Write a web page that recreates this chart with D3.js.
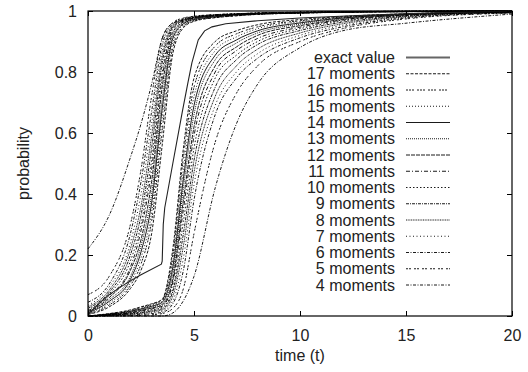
<!DOCTYPE html>
<html>
<head>
<meta charset="utf-8">
<script src="https://cdn.jsdelivr.net/npm/d3@7"></script>
<style>
  body { margin: 0; background: #fff; }
  text { font-family: "Liberation Sans", Arial, sans-serif; fill: #222; }
</style>
</head>
<body>
<div id="chart"></div>
<script>
// sample times shared by all moment bounds
var times = [0, 1, 2, 2.5, 3, 3.5, 4, 4.5, 5, 6, 7, 8, 10, 12, 15, 20];

var momentCounts = [17, 16, 15, 14, 13, 12, 11, 10, 9, 8, 7, 6, 5, 4];

// upper bounds (left bundle), same order as momentCounts
var upperBounds = [
  [0.005, 0.030, 0.09, 0.15, 0.27, 0.56, 0.86, 0.945, 0.966, 0.978, 0.984, 0.989, 0.993, 0.996, 0.998, 1],
  [0.006, 0.036, 0.10, 0.17, 0.31, 0.61, 0.88, 0.950, 0.968, 0.979, 0.985, 0.989, 0.993, 0.996, 0.998, 1],
  [0.008, 0.042, 0.11, 0.19, 0.34, 0.65, 0.895, 0.955, 0.970, 0.980, 0.986, 0.990, 0.994, 0.996, 0.998, 1],
  [0.010, 0.048, 0.12, 0.21, 0.37, 0.68, 0.91, 0.958, 0.972, 0.981, 0.987, 0.990, 0.994, 0.996, 0.998, 1],
  [0.012, 0.054, 0.13, 0.23, 0.40, 0.71, 0.92, 0.961, 0.974, 0.983, 0.988, 0.991, 0.994, 0.997, 0.998, 1],
  [0.014, 0.060, 0.15, 0.25, 0.44, 0.75, 0.93, 0.964, 0.976, 0.984, 0.988, 0.991, 0.994, 0.997, 0.998, 1],
  [0.017, 0.066, 0.16, 0.28, 0.48, 0.78, 0.94, 0.967, 0.977, 0.985, 0.989, 0.992, 0.995, 0.997, 0.999, 1],
  [0.020, 0.072, 0.18, 0.30, 0.51, 0.80, 0.945, 0.968, 0.978, 0.985, 0.989, 0.992, 0.995, 0.997, 0.999, 1],
  [0.025, 0.078, 0.20, 0.33, 0.55, 0.83, 0.948, 0.970, 0.979, 0.986, 0.990, 0.992, 0.995, 0.997, 0.999, 1],
  [0.030, 0.085, 0.22, 0.36, 0.59, 0.85, 0.952, 0.972, 0.980, 0.987, 0.990, 0.993, 0.995, 0.997, 0.999, 1],
  [0.035, 0.095, 0.24, 0.40, 0.63, 0.87, 0.955, 0.973, 0.981, 0.987, 0.991, 0.993, 0.995, 0.997, 0.999, 1],
  [0.045, 0.105, 0.27, 0.44, 0.67, 0.89, 0.958, 0.975, 0.982, 0.988, 0.991, 0.993, 0.996, 0.998, 0.999, 1],
  [0.070, 0.130, 0.30, 0.48, 0.72, 0.91, 0.962, 0.977, 0.983, 0.988, 0.991, 0.994, 0.996, 0.998, 0.999, 1],
  [0.220, 0.330, 0.52, 0.63, 0.76, 0.91, 0.960, 0.970, 0.977, 0.985, 0.990, 0.993, 0.996, 0.998, 0.999, 1]
];

// lower bounds (right bundle)
var lowerBounds = [
  [0, 0.008, 0.020, 0.030, 0.040, 0.055, 0.22, 0.55, 0.78, 0.90, 0.935, 0.955, 0.972, 0.982, 0.991, 0.998],
  [0, 0.007, 0.018, 0.028, 0.038, 0.052, 0.20, 0.52, 0.75, 0.885, 0.925, 0.948, 0.968, 0.980, 0.990, 0.998],
  [0, 0.006, 0.016, 0.025, 0.035, 0.048, 0.18, 0.48, 0.72, 0.87, 0.915, 0.942, 0.965, 0.979, 0.990, 0.998],
  [0, 0.006, 0.015, 0.023, 0.032, 0.045, 0.16, 0.45, 0.69, 0.855, 0.905, 0.935, 0.961, 0.977, 0.989, 0.997],
  [0, 0.005, 0.013, 0.020, 0.029, 0.040, 0.14, 0.42, 0.66, 0.84, 0.895, 0.928, 0.957, 0.975, 0.988, 0.997],
  [0, 0.004, 0.011, 0.018, 0.026, 0.036, 0.12, 0.38, 0.62, 0.82, 0.882, 0.920, 0.952, 0.972, 0.987, 0.997],
  [0, 0.004, 0.010, 0.016, 0.023, 0.032, 0.11, 0.35, 0.59, 0.80, 0.870, 0.910, 0.947, 0.970, 0.986, 0.996],
  [0, 0.003, 0.008, 0.013, 0.020, 0.028, 0.09, 0.31, 0.55, 0.78, 0.855, 0.900, 0.942, 0.967, 0.985, 0.996],
  [0, 0.003, 0.007, 0.011, 0.017, 0.024, 0.08, 0.27, 0.51, 0.75, 0.840, 0.890, 0.936, 0.963, 0.983, 0.996],
  [0, 0.002, 0.006, 0.009, 0.014, 0.020, 0.065, 0.23, 0.47, 0.72, 0.820, 0.875, 0.928, 0.958, 0.981, 0.995],
  [0, 0.002, 0.004, 0.007, 0.011, 0.016, 0.05, 0.19, 0.43, 0.69, 0.800, 0.860, 0.920, 0.953, 0.979, 0.995],
  [0, 0.001, 0.003, 0.005, 0.008, 0.012, 0.04, 0.15, 0.38, 0.66, 0.780, 0.845, 0.912, 0.948, 0.977, 0.994],
  [0, 0, 0.001, 0.002, 0.004, 0.008, 0.025, 0.09, 0.27, 0.57, 0.730, 0.820, 0.900, 0.942, 0.974, 0.993],
  [0, 0, 0, 0, 0, 0, 0.01, 0.05, 0.13, 0.42, 0.630, 0.760, 0.880, 0.935, 0.960, 0.990]
];

// exact value curve
var exactTimes = [0, 0.5, 1, 1.8, 2.5, 3.46, 3.5, 3.55, 3.62, 4.0, 4.45, 4.7, 4.9, 5.2, 5.5, 5.85, 6.5, 8, 10, 13, 16, 20];
var exactValues = [0.005, 0.04, 0.07, 0.107, 0.135, 0.17, 0.18, 0.30, 0.355, 0.50, 0.67, 0.76, 0.83, 0.905, 0.935, 0.948, 0.958, 0.968, 0.977, 0.986, 0.993, 1];

var xTicks = [0, 5, 10, 15, 20];
var yTicks = [0, 0.2, 0.4, 0.6, 0.8, 1];

// set the dimensions and margins of the graph
var W = 528, H = 372;
var margin = {top: 11, right: 16, bottom: 56, left: 88};
var width = W - margin.left - margin.right,
    height = H - margin.top - margin.bottom;

var svg = d3.select("#chart").append("svg")
  .attr("width", W).attr("height", H);
var g = svg.append("g")
  .attr("transform", "translate(" + margin.left + "," + margin.top + ")");

var x = d3.scaleLinear().domain([0, 20]).range([0, width]);
var y = d3.scaleLinear().domain([0, 1]).range([height, 0]);

// dash styles in legend order (17 .. 4)
var dashes = ["3,1.5", "2,1,2,1,2,3", "1,2", null, "1,1", "4,1", "4,2,1,2", "1.5,2",
              "3,1,1,1", "1,0.7", "1,2.5", "3,1.5,1,1.5", "2,1,2,3", "3,1.5,1,1.5"];

var line = d3.line()
  .x(function(d) { return x(d[0]); })
  .y(function(d) { return y(d[1]); })
  .curve(d3.curveMonotoneX);

var curves = g.append("g").attr("fill", "none");

momentCounts.forEach(function(n, i) {
  [upperBounds[i], lowerBounds[i]].forEach(function(vals) {
    curves.append("path")
      .datum(times.map(function(t, j) { return [t, vals[j]]; }))
      .attr("d", line)
      .attr("stroke", "#000")
      .attr("stroke-width", 0.9)
      .attr("stroke-dasharray", dashes[i]);
  });
});

curves.append("path")
  .datum(exactTimes.map(function(t, j) { return [t, exactValues[j]]; }))
  .attr("d", d3.line().x(function(d) { return x(d[0]); }).y(function(d) { return y(d[1]); }))
  .attr("stroke", "#222")
  .attr("stroke-width", 1.1);

// axes with inward ticks
g.append("g").attr("transform", "translate(0," + height + ")")
  .call(d3.axisBottom(x).tickValues(xTicks).tickSizeInner(-5).tickSizeOuter(0).tickPadding(14));
g.append("g")
  .call(d3.axisLeft(y).tickValues(yTicks).tickSizeInner(-5).tickSizeOuter(0).tickPadding(11)
    .tickFormat(function(d) { return d3.format("")(d); }));
g.append("g")
  .call(d3.axisTop(x).tickValues(xTicks).tickSizeInner(-5).tickSizeOuter(0).tickFormat(""));
g.append("g").attr("transform", "translate(" + width + ",0)")
  .call(d3.axisRight(y).tickValues(yTicks).tickSizeInner(-5).tickSizeOuter(0).tickFormat(""));

g.selectAll(".domain").remove();
g.selectAll(".tick line").attr("stroke", "#000");
g.selectAll(".tick text").style("font-size", "16px").attr("fill", "#222")
  .style("font-family", "'Liberation Sans', Arial, sans-serif");

g.append("rect")
  .attr("width", width).attr("height", height)
  .attr("fill", "none").attr("stroke", "#000").attr("stroke-width", 1.2);

// axis titles
svg.append("text")
  .attr("x", margin.left + width / 2).attr("y", 361)
  .attr("text-anchor", "middle").style("font-size", "16px")
  .text("time (t)");
svg.append("text")
  .attr("transform", "translate(23," + (margin.top + height / 2) + ") rotate(-90)")
  .attr("text-anchor", "middle").attr("dy", "0.35em").style("font-size", "16px")
  .text("probability");

// legend
var legendLabels = ["exact value"].concat(momentCounts.map(function(n) { return n + " moments"; }));
var legend = svg.append("g");
legendLabels.forEach(function(label, i) {
  var ly = 57.5 + i * 16.25;
  legend.append("text")
    .attr("x", 395).attr("y", ly).attr("dy", "0.35em")
    .attr("text-anchor", "end").style("font-size", "16px")
    .text(label);
  legend.append("line")
    .attr("x1", 406).attr("x2", 450).attr("y1", ly).attr("y2", ly)
    .attr("stroke", i === 0 ? "#666" : "#000")
    .attr("stroke-width", i === 0 ? 2 : 0.9)
    .attr("stroke-dasharray", i === 0 ? null : dashes[i - 1]);
});
</script>
</body>
</html>
